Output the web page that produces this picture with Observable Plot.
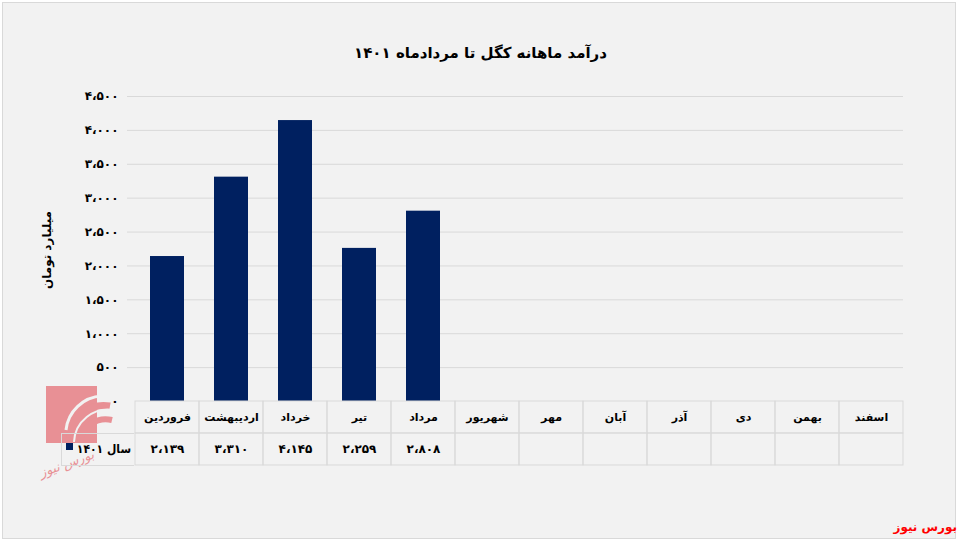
<!DOCTYPE html>
<html><head><meta charset="utf-8">
<script src="https://cdn.jsdelivr.net/npm/d3@7"></script>
<script src="https://cdn.jsdelivr.net/npm/@observablehq/plot@0.6"></script>
<style>
html,body{margin:0;padding:0;background:#fff;}
#wrap{position:relative;width:961px;height:545px;overflow:hidden;font-family:"DejaVu Sans",sans-serif;}
#frame{position:absolute;left:2px;top:2px;width:952px;height:535px;border:1px solid #d9d9d9;background:#f2f2f2;}
.abs{position:absolute;}
#title{left:0;width:961px;top:44px;text-align:center;font-weight:bold;font-size:15px;color:#000;direction:rtl;}
#ylab{left:47px;top:250px;transform:translate(-50%,-50%) rotate(-90deg);font-weight:bold;font-size:12px;white-space:nowrap;direction:rtl;}
#legcell{left:61px;top:433px;width:72px;height:31px;border:1px solid #d9d9d9;border-right:none;}
#legtext{right:3px;top:8px;font-weight:bold;font-size:12px;direction:rtl;white-space:nowrap;font-family:"DejaVu Sans Condensed","DejaVu Sans",sans-serif;}
#legkey{left:4px;top:9px;width:7px;height:7px;background:#002060;}
#brand{right:4px;top:520px;color:#ff0000;font-weight:bold;font-size:12px;direction:rtl;}
#wm{left:38px;top:456px;font-size:13px;color:#e0303a;opacity:0.5;font-style:italic;transform:rotate(-20deg);direction:rtl;white-space:nowrap;}
</style></head>
<body>
<div id="wrap">
  <div id="frame"></div>
  <svg class="abs" style="left:40px;top:380px" width="80" height="70" opacity="0.5">
    <rect x="6" y="6" width="51" height="57" fill="#e0303a"/>
    <path d="M30 58 A34 34 0 0 1 70 26" stroke="#e0303a" stroke-width="7" fill="none"/>
    <path d="M30 58 A34 34 0 0 1 70 26" stroke="#f2f2f2" stroke-width="2" fill="none" transform="translate(4 4)"/>
    <path d="M40 62 A26 26 0 0 1 72 40" stroke="#e0303a" stroke-width="6" fill="none"/>
    <path d="M26 50 A38 38 0 0 1 62 16" stroke="#f2f2f2" stroke-width="3" fill="none"/>
  </svg>
  <div id="wm" class="abs">بورس نیوز</div>
  <div id="title" class="abs"></div>
  <div id="ylab" class="abs"></div>
  <div id="main" class="abs" style="left:0;top:0"></div>
  <div id="table" class="abs" style="left:0;top:400px"></div>
  <div id="legcell" class="abs"><div id="legkey" class="abs"></div><div id="legtext" class="abs"></div></div>
  <div id="brand" class="abs">بورس نیوز</div>
</div>
<script>
const titleText = "درآمد ماهانه کگل تا مردادماه ۱۴۰۱";
const yLabel = "میلیارد تومان";
const seriesName = "سال ۱۴۰۱";
const months = ["فروردین","اردیبهشت","خرداد","تیر","مرداد","شهریور","مهر","آبان","آذر","دی","بهمن","اسفند"];
const values = [2139, 3310, 4145, 2259, 2808, null, null, null, null, null, null, null];
const yTicks = [0,500,1000,1500,2000,2500,3000,3500,4000,4500];

const fa = n => {
  const s = n >= 1000 ? d3.format(",")(n) : String(n);
  return s.replace(/\d/g, d => "۰۱۲۳۴۵۶۷۸۹"[d]).replace(/,/g, "،");
};

document.getElementById("title").textContent = titleText;
document.getElementById("ylab").textContent = yLabel;
document.getElementById("legtext").textContent = seriesName;

const data = months.map((m,i)=>({m, v: values[i]}));
const bars = data.filter(d => d.v != null);

const main = Plot.plot({
  width: 961, height: 412,
  marginLeft: 134, marginRight: 58, marginTop: 96, marginBottom: 11,
  style: {background: "transparent", fontFamily: "DejaVu Sans, sans-serif"},
  x: {type: "band", domain: months, paddingInner: 0, paddingOuter: 0, axis: null},
  y: {domain: [0, 4500], ticks: yTicks},
  marks: [
    Plot.ruleY(yTicks.filter(t => t > 0), {stroke: "#d9d9d9", strokeWidth: 1, insetLeft: -7}),
    Plot.barY(bars, {x: "m", y: "v", fill: "#002060", insetLeft: 15, insetRight: 15}),
    Plot.axisY(yTicks, {tickSize: 0, tickPadding: 16, tickFormat: fa, fontSize: 12, fontWeight: "bold", fill: "#000", label: null})
  ]
});
document.getElementById("main").appendChild(main);

const rows = ["h","v"];
const cells = [];
months.forEach(m => rows.forEach(r => cells.push({m, r})));
const table = Plot.plot({
  width: 961, height: 66,
  marginLeft: 134, marginRight: 58, marginTop: 1, marginBottom: 1,
  style: {background: "transparent", fontFamily: "DejaVu Sans, sans-serif"},
  x: {type: "band", domain: months, paddingInner: 0, paddingOuter: 0, axis: null},
  y: {type: "band", domain: rows, paddingInner: 0, paddingOuter: 0, axis: null},
  marks: [
    Plot.cell(cells, {x: "m", y: "r", fill: "none", stroke: "#d9d9d9"}),
    Plot.text(months, {x: d => d, y: () => "h", text: d => d, fontSize: 11, fontWeight: "bold", fill: "#000"}),
    Plot.text(bars, {x: "m", y: () => "v", text: d => fa(d.v), fontSize: 12, fontWeight: "bold", fill: "#000"})
  ]
});
document.getElementById("table").appendChild(table);
</script>
</body></html>
